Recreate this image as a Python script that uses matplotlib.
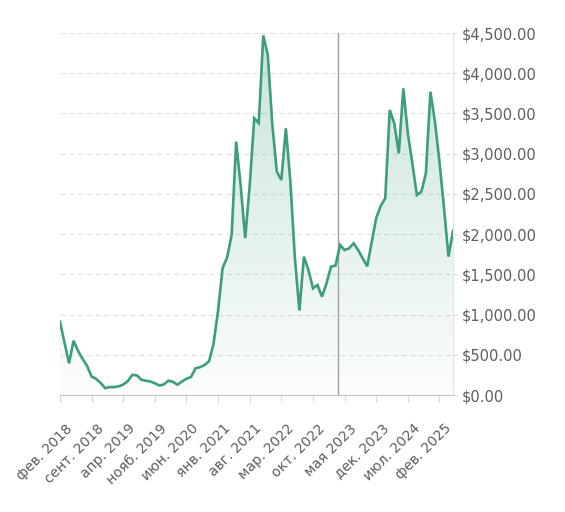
import numpy as np
import matplotlib
matplotlib.use("Agg")
import matplotlib.pyplot as plt
import matplotlib.transforms as mtransforms
from matplotlib.ticker import FuncFormatter, MultipleLocator
from matplotlib.colors import LinearSegmentedColormap

# Monthly price, starting Feb 2018
prices = [
    911, 650, 394, 675, 548, 449, 361, 230, 200, 150,
    85, 98, 99, 108, 130, 172, 250, 245, 190, 177,
    168, 146, 118, 132, 178, 164, 128, 169, 202, 224,
    332, 346, 373, 420, 640, 1050, 1580, 1710, 1990, 3150,
    2600, 1950, 2610, 3440, 3380, 4470, 4227, 3360, 2776, 2673,
    3316, 2652, 1700, 1050, 1720, 1554, 1326, 1367, 1222, 1389,
    1595, 1610, 1865, 1802, 1823, 1886, 1802, 1700, 1600, 1900,
    2200, 2350, 2445, 3543, 3377, 3004, 3812, 3253, 2880, 2486,
    2527, 2756, 3770, 3400, 2900, 2330, 1720, 2040,
]

tick_positions = [0, 7, 14, 21, 28, 35, 42, 49, 56, 63, 70, 77, 84]
tick_labels = [
    "фев. 2018", "сент. 2018", "апр. 2019", "нояб. 2019", "июн. 2020",
    "янв. 2021", "авг. 2021", "мар. 2022", "окт. 2022", "мая 2023",
    "дек. 2023", "июл. 2024", "фев. 2025",
]

highlight_month = 61.6
y_max = 4500
y_step = 500

line_color = "#3d9e7b"
text_color = "#5e5e5e"

plt.rcParams["font.family"] = ["DejaVu Sans"]

fig = plt.figure(figsize=(5.65, 5.12), dpi=100)
ax = fig.add_axes([60 / 565, 1 - 395 / 512, (453 - 60) / 565, (395 - 33) / 512])

x = np.arange(len(prices))
y = np.array(prices, dtype=float)

ax.set_xlim(0, len(prices) - 1)
ax.set_ylim(0, y_max)

# gradient fill under the line
cmap = LinearSegmentedColormap.from_list(
    "fade", [(61 / 255, 158 / 255, 123 / 255, 0.02), (61 / 255, 158 / 255, 123 / 255, 0.28)]
)
grad = np.linspace(0, 1, 256).reshape(-1, 1)
im = ax.imshow(grad, cmap=cmap, aspect="auto", origin="lower",
               extent=[0, len(prices) - 1, 0, y_max], zorder=1)
poly = ax.fill_between(x, y, 0, facecolor="none", edgecolor="none")
clip = poly.get_paths()[0]
im.set_clip_path(clip, transform=ax.transData)

ax.plot(x, y, color=line_color, lw=1.9, zorder=3, solid_joinstyle="miter")

ax.axvline(highlight_month, color="#a0a0a0", lw=1.0, zorder=2)

# grid
ax.yaxis.set_major_locator(MultipleLocator(y_step))
ax.grid(axis="y", color="#e2e2e2", linestyle=(0, (4, 3)), lw=0.9, zorder=0)
ax.set_axisbelow(True)

ax.yaxis.tick_right()
ax.yaxis.set_major_formatter(FuncFormatter(lambda v, p: f"${v:,.2f}"))
ax.tick_params(axis="y", length=3, color="#dddddd", pad=3,
               labelsize=10.5, labelcolor=text_color)

ax.set_xticks(tick_positions)
ax.set_xticklabels(tick_labels, rotation=45, ha="right", rotation_mode="anchor")
ax.tick_params(axis="x", length=5, color="#d8d8d8", pad=4,
               labelsize=10, labelcolor=text_color)

# push the slanted month labels a little right and down
shift = mtransforms.ScaledTranslation(5 / 100, -14 / 100, fig.dpi_scale_trans)
for lbl in ax.get_xticklabels():
    lbl.set_transform(lbl.get_transform() + shift)

for side in ("top", "left"):
    ax.spines[side].set_visible(False)
ax.spines["right"].set_color("#e4e4e4")
ax.spines["bottom"].set_color("#c4c4c4")

fig.savefig("out.png", dpi=100, facecolor="white")
